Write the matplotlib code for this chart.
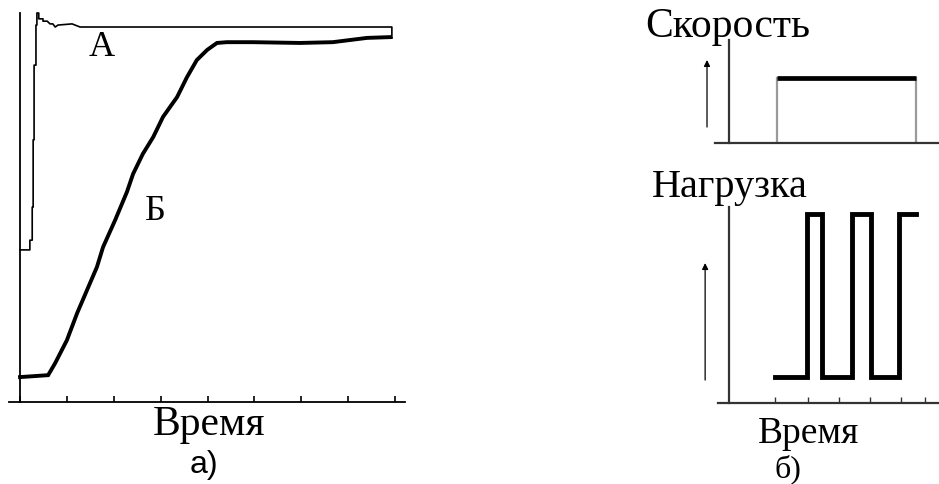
import matplotlib
matplotlib.use("Agg")
import matplotlib.pyplot as plt

# ---------------- data ----------------
# Panel a): time in tick units (0..8), response in % of full scale
curve_a_time = [0.0, 0.21, 0.21, 0.26, 0.26, 0.28, 0.28, 0.30, 0.30, 0.34, 0.34,
                0.36, 0.36, 0.40, 0.40, 0.49, 0.49, 0.58, 0.64, 0.70, 0.75, 0.81,
                1.11, 1.28, 2.5, 4.0, 5.5, 7.0, 7.93, 7.93]
curve_a_value = [39.1, 39.1, 41.6, 41.6, 50.1, 50.1, 67.4, 67.4, 86.6, 86.6, 96.9,
                 96.9, 100.0, 100.0, 98.5, 98.5, 97.9, 97.9, 97.2, 97.2, 96.4, 96.9,
                 97.2, 96.4, 96.4, 96.4, 96.4, 96.4, 96.4, 93.6]

curve_b_time = [0.0, 0.60, 0.75, 1.00, 1.22, 1.43, 1.64, 1.77, 2.03, 2.28, 2.41,
                2.62, 2.84, 3.05, 3.35, 3.56, 3.77, 3.99, 4.20, 4.41, 4.97, 5.97,
                6.67, 7.40, 7.89]
curve_b_value = [6.4, 6.9, 10.0, 15.9, 22.9, 28.8, 34.7, 39.8, 46.8, 54.0, 58.6,
                 63.8, 68.1, 73.3, 78.4, 83.5, 87.9, 90.5, 92.3, 92.5, 92.5, 92.3,
                 92.5, 93.6, 93.8]
ticks_a = [0, 1, 2, 3, 4, 5, 6, 7, 8]

# Panel б): speed and load profiles (relative units)
speed_time = [1.55, 6.03]
speed_level = 0.63

load_time = [1.48, 2.52, 3.00, 3.97, 4.58, 5.48, 6.03]
load_level = [0.133, 0.964, 0.133, 0.964, 0.133, 0.964, 0.964]
ticks_b = [1.48, 2.55, 3.55, 4.55, 5.55, 6.32]

SERIF = ["Liberation Serif", "DejaVu Serif"]
SANS = ["Liberation Sans", "DejaVu Sans"]

W, H = 939, 484
fig = plt.figure(figsize=(W / 100, H / 100), dpi=100)


def frac(x0, y0, x1, y1):
    return [x0 / W, 1 - y1 / H, (x1 - x0) / W, (y1 - y0) / H]


# ---------------- panel a) ----------------
ax = fig.add_axes(frac(9, 13, 405, 402))
ax.plot(curve_a_time, curve_a_value, color="black", lw=1.2, clip_on=False)
ax.plot(curve_b_time, curve_b_value, color="black", lw=2.8, clip_on=False,
        solid_joinstyle="miter")
ax.plot([curve_b_time[-1], curve_a_time[-1]], [curve_b_value[-1], curve_a_value[-1]],
        color="black", lw=1.2)
ax.set_xlim(-0.235, 8.21)
ax.set_ylim(0, 100)
for s in ["top", "right"]:
    ax.spines[s].set_visible(False)
ax.spines["left"].set_position(("data", 0))
ax.spines["left"].set_linewidth(1.3)
ax.spines["bottom"].set_linewidth(1.3)
ax.set_xticks(ticks_a)
ax.set_xticklabels([])
ax.set_yticks([])
ax.tick_params(axis="x", direction="in", length=4, width=1.2, color="black")
ax.text(1.74, 88.9, "А", fontsize=26, family=SERIF, ha="center", va="baseline")
ax.text(2.89, 46.8, "Б", fontsize=26, family=SERIF, ha="center", va="baseline")

fig.text(208.5 / W, 1 - 435 / H, "Время", fontsize=30, family=SERIF,
         ha="center", va="baseline")
fig.text(204 / W, 1 - 473 / H, "а)", fontsize=23, family=SANS,
         ha="center", va="baseline")

# ---------------- panel б) top: speed ----------------
axs = fig.add_axes(frac(715, 40, 939, 143))
axs.plot([speed_time[0], speed_time[0]], [0, speed_level], color="#9a9a9a", lw=1.6)
axs.plot([speed_time[1], speed_time[1]], [0, speed_level], color="#9a9a9a", lw=1.6)
axs.plot(speed_time, [speed_level, speed_level], color="black", lw=3.4,
         solid_capstyle="butt")
axs.set_xlim(-0.452, 6.774)
axs.set_ylim(0, 1)
for s in ["top", "right"]:
    axs.spines[s].set_visible(False)
axs.spines["left"].set_position(("data", 0))
axs.spines["left"].set_linewidth(1.6)
axs.spines["left"].set_color("#333333")
axs.spines["bottom"].set_linewidth(1.6)
axs.spines["bottom"].set_color("#333333")
axs.set_xticks([])
axs.set_yticks([])
axs.annotate("", xy=(-0.71, 0.806), xytext=(-0.71, 0.155),
             arrowprops=dict(arrowstyle="-|>", color="black", lw=0.9,
                             mutation_scale=9, shrinkA=0, shrinkB=0),
             annotation_clip=False)
fig.text(727.5 / W, 1 - 37 / H, "Скорость", fontsize=30, family=SERIF,
         ha="center", va="baseline")

# ---------------- panel б) bottom: load ----------------
axl = fig.add_axes(frac(718, 207, 939, 403))
axl.plot(load_time, load_level, color="black", lw=3.5, drawstyle="steps-post",
         solid_joinstyle="miter")
axl.set_xlim(-0.355, 6.774)
axl.set_ylim(0, 1)
for s in ["top", "right"]:
    axl.spines[s].set_visible(False)
axl.spines["left"].set_position(("data", 0))
axl.spines["left"].set_linewidth(1.6)
axl.spines["left"].set_color("#333333")
axl.spines["bottom"].set_linewidth(1.6)
axl.spines["bottom"].set_color("#333333")
axl.set_xticks(ticks_b)
axl.set_xticklabels([])
axl.set_yticks([])
axl.tick_params(axis="x", direction="in", length=4, width=1.0, color="#333333")
axl.annotate("", xy=(-0.77, 0.714), xytext=(-0.77, 0.117),
             arrowprops=dict(arrowstyle="-|>", color="black", lw=0.9,
                             mutation_scale=9, shrinkA=0, shrinkB=0),
             annotation_clip=False)
fig.text(729.5 / W, 1 - 197 / H, "Нагрузка", fontsize=29, family=SERIF,
         ha="center", va="baseline")
fig.text(808.5 / W, 1 - 443 / H, "Время", fontsize=27, family=SERIF,
         ha="center", va="baseline")
fig.text(787.5 / W, 1 - 477 / H, "б)", fontsize=23, family=SERIF,
         ha="center", va="baseline")

fig.savefig("out.png", dpi=100)
